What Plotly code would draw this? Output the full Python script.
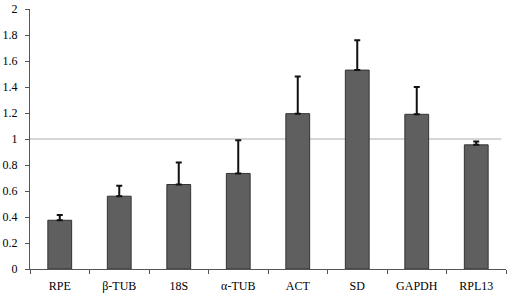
import plotly.graph_objects as go

categories = ["RPE", "β-TUB", "18S", "α-TUB", "ACT", "SD", "GAPDH", "RPL13"]
values = [0.375, 0.56, 0.65, 0.735, 1.195, 1.53, 1.19, 0.955]
err_plus = [0.04, 0.08, 0.17, 0.255, 0.285, 0.23, 0.21, 0.025]
y_ticks = [0, 0.2, 0.4, 0.6, 0.8, 1, 1.2, 1.4, 1.6, 1.8, 2]
y_tick_labels = ["0", "0.2", "0.4", "0.6", "0.8", "1", "1.2", "1.4", "1.6", "1.8", "2"]
ref_value = 1

fig = go.Figure()
fig.add_trace(go.Bar(
    x=categories, y=values,
    marker=dict(color="#5f5f5f", line=dict(color="#333333", width=1)),
    error_y=dict(type="data", symmetric=False, array=err_plus,
                 arrayminus=[0]*len(values), color="#111111",
                 thickness=2, width=3),
    width=0.4,
))
fig.add_shape(type="line", xref="paper", yref="y", x0=0, x1=0.99,
              y0=ref_value, y1=ref_value, line=dict(color="#c8c8c8", width=1.5),
              layer="below")

fig.update_layout(
    width=510, height=298,
    margin=dict(l=30, r=4, t=9, b=29),
    paper_bgcolor="white", plot_bgcolor="white",
    showlegend=False,
    font=dict(family="Liberation Serif", size=12, color="#000000"),
)
fig.update_xaxes(
    automargin=False,
    showline=True, linecolor="#555555", linewidth=1,
    ticks="outside", tickson="boundaries", ticklen=4, tickcolor="#555555",
    ticklabelstandoff=6,
    showgrid=False, tickfont=dict(size=12),
)
fig.update_yaxes(
    automargin=False,
    range=[0, 2], tickvals=y_ticks, ticktext=y_tick_labels,
    showline=True, linecolor="#555555", linewidth=1,
    ticks="outside", ticklen=4, tickcolor="#555555",
    ticklabelstandoff=5,
    showgrid=False, zeroline=False, tickfont=dict(size=12),
)
fig.write_html("out.html",
               config={"displayModeBar": False},
               post_script="document.body.style.margin='0';document.body.style.overflow='hidden';")
